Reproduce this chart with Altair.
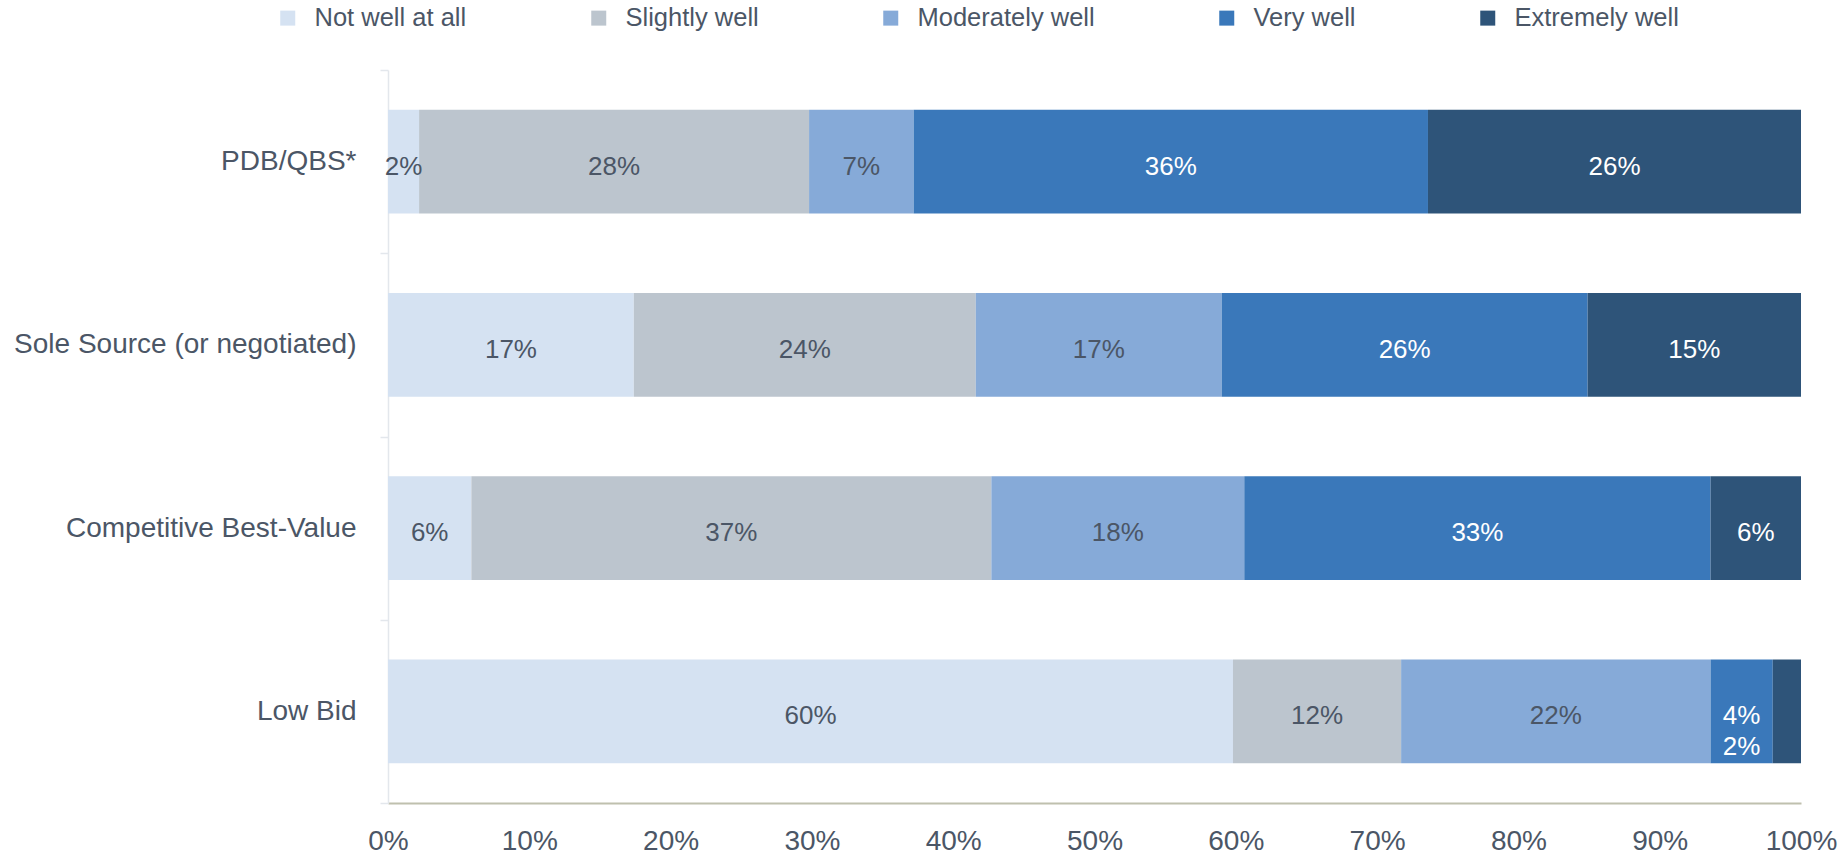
import altair as alt
import pandas as pd

methods = ["PDB/QBS*", "Sole Source (or negotiated)", "Competitive Best-Value", "Low Bid"]
levels = ["Not well at all", "Slightly well", "Moderately well", "Very well", "Extremely well"]
colors = ["#D5E2F2", "#BCC5CE", "#86AAD8", "#3A78BA", "#2E5479"]

# percentage shares per method, in level order
pdb_qbs = [2.2, 27.6, 7.4, 36.4, 26.4]
sole_source = [17.4, 24.2, 17.4, 25.9, 15.1]
competitive = [5.9, 36.8, 17.9, 33.0, 6.4]
low_bid = [59.8, 11.9, 21.9, 4.4, 2.0]

x_ticks = [0, 10, 20, 30, 40, 50, 60, 70, 80, 90, 100]

series = [pdb_qbs, sole_source, competitive, low_bid]
rows = []
for m, vals in zip(methods, series):
    start = 0.0
    mids = []
    for i, (lvl, v) in enumerate(zip(levels, vals)):
        end = start + v
        mids.append((start + end) / 2)
        rows.append(dict(method=m, level=lvl, order=i, value=v, start=start, end=end,
                         mid=(start + end) / 2, label=f"{int(v + 0.5)}%", wrap=0))
        start = end
    # a tiny final segment gets its label tucked under the previous one
    if vals[-1] < 3 and len(vals) > 1:
        rows[-1]["mid"] = mids[-2]
        rows[-1]["wrap"] = 1
df = pd.DataFrame(rows)

font = "Liberation Sans"
text_dark = "#4B5666"

base = alt.Chart(df)

bars = base.mark_bar(height={"band": 0.5675}).encode(
    y=alt.Y("method:N", sort=methods, title=None,
            scale=alt.Scale(paddingInner=0, paddingOuter=0),
            axis=alt.Axis(tickBand="extent", tickSize=8, tickColor="#E3E7EC", tickWidth=1.5,
                          domainColor="#E3E7EC", domainWidth=1.5,
                          labelFont=font, labelFontSize=28, labelColor=text_dark,
                          labelPadding=24, labelLimit=500)),
    x=alt.X("start:Q", title=None,
            scale=alt.Scale(domain=[0, 100], nice=False),
            axis=alt.Axis(values=x_ticks, labelExpr="datum.value + '%'", ticks=False, tickSize=0,
                          grid=False, domainColor="#BFC0AE", domainWidth=2,
                          labelFont=font, labelFontSize=28, labelColor=text_dark,
                          labelPadding=24, labelFlush=False)),
    x2="end:Q",
    color=alt.Color("level:N", sort=levels, title=None,
                    scale=alt.Scale(domain=levels, range=colors),
                    legend=alt.Legend(orient="none", direction="horizontal",
                                      legendX=-113, legendY=-65, padding=0,
                                      symbolType="square", symbolSize=225,
                                      symbolStrokeWidth=0, symbolOpacity=1,
                                      labelFont=font, labelFontSize=25.5,
                                      labelColor=text_dark, labelOffset=14,
                                      labelLimit=400, columnPadding=119)),
    order=alt.Order("order:Q"),
)

text_color = alt.condition(
    alt.FieldOneOfPredicate(field="level", oneOf=["Very well", "Extremely well"]),
    alt.value("white"), alt.value(text_dark))

labels = base.transform_filter("datum.wrap == 0").mark_text(
    font=font, fontSize=26, baseline="middle", align="center", dy=5
).encode(
    y=alt.Y("method:N", sort=methods),
    x=alt.X("mid:Q"),
    text="label:N",
    color=text_color,
)

wrapped = base.transform_filter("datum.wrap == 1").mark_text(
    font=font, fontSize=26, baseline="middle", align="center", dy=36
).encode(
    y=alt.Y("method:N", sort=methods),
    x=alt.X("mid:Q"),
    text="label:N",
    color=text_color,
)

chart = alt.layer(bars, labels, wrapped).properties(
    width=1413, height=733,
    autosize=alt.AutoSizeParams(type="none"),
    padding={"left": 388, "top": 70, "right": 46, "bottom": 51},
).configure_view(stroke=None)

chart.save("out.html", embed_options={"renderer": "svg", "actions": False})
